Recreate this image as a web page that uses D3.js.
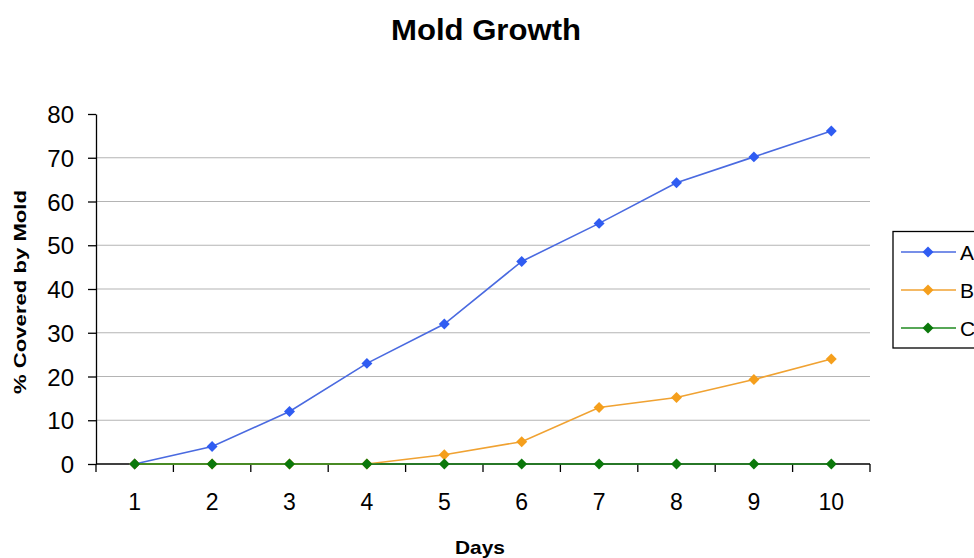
<!DOCTYPE html>
<html>
<head>
<meta charset="utf-8">
<script src="https://cdn.jsdelivr.net/npm/d3@7"></script>
<style>
  html, body { margin: 0; padding: 0; background: #ffffff; }
  svg { display: block; }
  text { font-family: "Liberation Sans", Arial, sans-serif; fill: #000; }
</style>
</head>
<body>
<svg id="chart" width="974" height="558"></svg>
<script>
// ---- data ----
const days = [1, 2, 3, 4, 5, 6, 7, 8, 9, 10];
const seriesA = [0, 4, 12, 23, 32, 46.3, 55, 64.3, 70.2, 76.1];
const seriesB = [0, 0, 0, 0, 2.1, 5.1, 12.9, 15.2, 19.3, 24];
const seriesC = [0, 0, 0, 0, 0, 0, 0, 0, 0, 0];
const seriesNames = ["A", "B", "C"];
const yTicks = [0, 10, 20, 30, 40, 50, 60, 70, 80];
const titleText = "Mold Growth";
const xTitle = "Days";
const yTitle = "% Covered by Mold";

(function () {
const series = [
  { name: seriesNames[0], values: seriesA, line: "#4a6ae0", fill: "#2f5cf2" },
  { name: seriesNames[1], values: seriesB, line: "#f0a232", fill: "#f59f1c" },
  { name: seriesNames[2], values: seriesC, line: "#1f8a1f", fill: "#0b780b" }
];

const svg = d3.select("#chart");
const plotLeft = 96, plotRight = 870, plotTop = 114, plotBottom = 464;

const x = d3.scaleBand().domain(days).range([plotLeft, plotRight]).padding(0);
const y = d3.scaleLinear().domain([0, 80]).range([plotBottom, plotTop]);
const cx = d => x(d) + x.bandwidth() / 2;

// gridlines
svg.append("g")
  .selectAll("line")
  .data(yTicks.filter(t => t > 0 && t < 80))
  .join("line")
  .attr("x1", plotLeft).attr("x2", plotRight)
  .attr("y1", d => y(d)).attr("y2", d => y(d))
  .attr("stroke", "#b4b4b4").attr("stroke-width", 1.2);

// y axis
const yAxis = svg.append("g")
  .attr("transform", `translate(${plotLeft},0)`)
  .call(d3.axisLeft(y).tickValues(yTicks).tickSize(8).tickPadding(14).tickSizeOuter(0));
yAxis.select(".domain").attr("stroke", "#000").attr("stroke-width", 1.3);
yAxis.selectAll(".tick line").attr("stroke", "#000").attr("stroke-width", 1.3);
yAxis.selectAll(".tick text")
  .style("font-size", "24px")
  .style("font-family", "'Liberation Sans', Arial, sans-serif")
  .attr("fill", "#222")
  .attr("dy", "0.36em");

// x axis (labels centered on categories, ticks between categories)
const xAxis = svg.append("g")
  .attr("transform", `translate(0,${plotBottom})`)
  .call(d3.axisBottom(x).tickSize(0).tickPadding(30).tickSizeOuter(0));
xAxis.select(".domain").remove();
xAxis.selectAll(".tick text")
  .style("font-size", "23px")
  .style("font-family", "'Liberation Sans', Arial, sans-serif")
  .attr("fill", "#222");

svg.append("line")
  .attr("x1", plotLeft).attr("x2", plotRight)
  .attr("y1", y(0)).attr("y2", y(0))
  .attr("stroke", "#000").attr("stroke-width", 1.3);

const boundaries = days.map(d => x(d)).concat([x(days[days.length - 1]) + x.bandwidth()]);
svg.append("g")
  .selectAll("line")
  .data(boundaries)
  .join("line")
  .attr("x1", d => d).attr("x2", d => d)
  .attr("y1", y(0)).attr("y2", y(0) + 8)
  .attr("stroke", "#000").attr("stroke-width", 1.3);

// series
const line = d3.line().x((v, i) => cx(days[i])).y(v => y(v));
const squareDiamond = {
  draw(context, size) {
    const r = Math.sqrt(size / 2);
    context.moveTo(0, -r);
    context.lineTo(r, 0);
    context.lineTo(0, r);
    context.lineTo(-r, 0);
    context.closePath();
  }
};
const diamond = d3.symbol().type(squareDiamond).size(60);

series.forEach(s => {
  svg.append("path")
    .datum(s.values)
    .attr("d", line)
    .attr("fill", "none")
    .attr("stroke", s.line)
    .attr("stroke-width", 1.6);
  svg.append("g")
    .selectAll("path")
    .data(s.values)
    .join("path")
    .attr("d", diamond)
    .attr("transform", (v, i) => `translate(${cx(days[i])},${y(v)})`)
    .attr("fill", s.fill);
});

// title
svg.append("text")
  .attr("x", 486).attr("y", 40)
  .attr("text-anchor", "middle")
  .attr("textLength", 190).attr("lengthAdjust", "spacingAndGlyphs")
  .style("font-size", "29px").style("font-weight", "bold")
  .text(titleText);

// x title
svg.append("text")
  .attr("x", 480).attr("y", 554)
  .attr("text-anchor", "middle")
  .attr("textLength", 50).attr("lengthAdjust", "spacingAndGlyphs")
  .style("font-size", "19px").style("font-weight", "bold")
  .text(xTitle);

// y title
svg.append("text")
  .attr("transform", "translate(26,292) rotate(-90)")
  .attr("text-anchor", "middle")
  .attr("textLength", 204).attr("lengthAdjust", "spacingAndGlyphs")
  .style("font-size", "17px").style("font-weight", "bold")
  .text(yTitle);

// legend
const legend = svg.append("g");
legend.append("rect")
  .attr("x", 893).attr("y", 231.5)
  .attr("width", 120).attr("height", 116.5)
  .attr("fill", "#fff").attr("stroke", "#000").attr("stroke-width", 1.3);
const legendY = d3.scalePoint().domain(seriesNames).range([252, 328]);
series.forEach(s => {
  const ly = legendY(s.name);
  legend.append("line")
    .attr("x1", 901).attr("x2", 956)
    .attr("y1", ly).attr("y2", ly)
    .attr("stroke", s.line).attr("stroke-width", 1.6);
  legend.append("path")
    .attr("d", diamond)
    .attr("transform", `translate(928,${ly})`)
    .attr("fill", s.fill);
  legend.append("text")
    .attr("x", 960).attr("y", ly)
    .attr("dy", "0.36em")
    .style("font-size", "21px")
    .attr("fill", "#222")
    .text(s.name);
});
})();
</script>
</body>
</html>
